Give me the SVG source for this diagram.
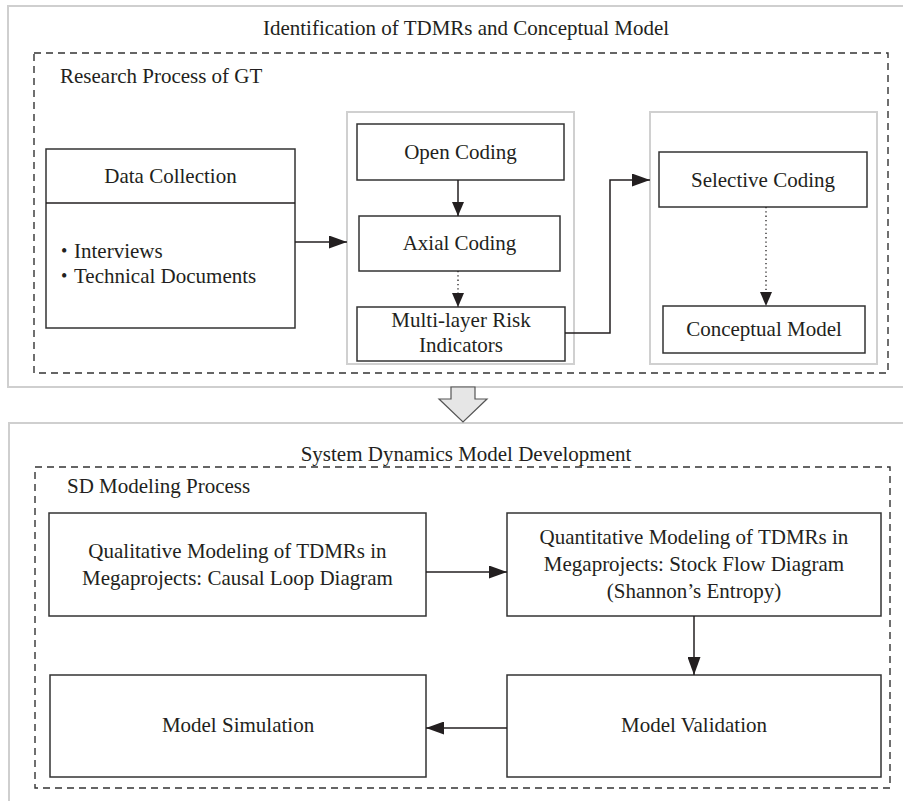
<svg xmlns="http://www.w3.org/2000/svg" width="903" height="801" viewBox="0 0 903 801">
<defs>
<style>
text{font-family:"Liberation Serif","DejaVu Serif",serif;font-size:21px;fill:#231f20}
.c{text-anchor:middle}
.b{font-size:18px}
.panel{fill:none;stroke:#cfcfcf;stroke-width:2}
.dash{fill:none;stroke:#333;stroke-width:1.4;stroke-dasharray:7 5}
.cont{fill:none;stroke:#d0d0d0;stroke-width:2}
.box{fill:#fff;stroke:#333;stroke-width:1.5}
.ln{fill:none;stroke:#231f20;stroke-width:1.5}
.dot{fill:none;stroke:#231f20;stroke-width:1.3;stroke-dasharray:1.3 3}
</style>
<marker id="ah" viewBox="0 0 18 13" refX="18" refY="6.5" markerWidth="18" markerHeight="13" markerUnits="userSpaceOnUse" orient="auto">
<path d="M0,0 L18,6.5 L0,13 z" fill="#231f20"/>
</marker>
<marker id="ahs" viewBox="0 0 14 12" refX="14" refY="6" markerWidth="14" markerHeight="12" markerUnits="userSpaceOnUse" orient="auto">
<path d="M0,0 L14,6 L0,12 z" fill="#231f20"/>
</marker>
</defs>
<rect width="903" height="801" fill="#fff"/>

<g id="panel-top">
<rect class="panel" x="8" y="6" width="920" height="381"/>
<text class="c" x="466" y="35">Identification of TDMRs and Conceptual Model</text>
<rect class="dash" x="34" y="53" width="854" height="320"/>
<text x="60" y="83">Research Process of GT</text>
<rect class="cont" x="347" y="112" width="227" height="252"/>
<rect class="cont" x="650" y="112" width="227" height="252"/>
</g>

<g id="panel-bottom">
<rect class="panel" x="9" y="423" width="920" height="400"/>
<text class="c" x="466" y="461">System Dynamics Model Development</text>
<rect class="dash" x="35" y="467" width="855" height="321"/>
<text x="67" y="493">SD Modeling Process</text>
</g>

<g id="big-arrow">
<path d="M451,387 L475,387 L475,399 L487,399 L463,422 L439,399 L451,399 z" fill="#e6e6e6" stroke="#555" stroke-width="1.2"/>
</g>

<g id="data-collection">
<rect class="box" x="46" y="149" width="249" height="179"/>
<line class="ln" x1="46" y1="203" x2="295" y2="203"/>
<text class="c" x="170.5" y="183">Data Collection</text>
<text y="258"><tspan class="b" x="61" dy="-1">•</tspan><tspan x="74" dy="1">Interviews</tspan></text>
<text y="283"><tspan class="b" x="61" dy="-1">•</tspan><tspan x="74" dy="1">Technical Documents</tspan></text>
</g>

<g id="open-coding">
<rect class="box" x="357" y="124" width="207" height="56"/>
<text class="c" x="460.5" y="159">Open Coding</text>
</g>

<g id="axial-coding">
<rect class="box" x="359" y="216" width="201" height="55"/>
<text class="c" x="459.5" y="250">Axial Coding</text>
</g>

<g id="multi-layer">
<rect class="box" x="357" y="307" width="208" height="54"/>
<text class="c" x="461" y="327">Multi-layer Risk</text>
<text class="c" x="461" y="352">Indicators</text>
</g>

<g id="selective-coding">
<rect class="box" x="659" y="152" width="208" height="55"/>
<text class="c" x="763" y="187">Selective Coding</text>
</g>

<g id="conceptual-model">
<rect class="box" x="663" y="306" width="202" height="47"/>
<text class="c" x="764" y="336">Conceptual Model</text>
</g>

<g id="qualitative">
<rect class="box" x="49" y="513" width="377" height="103"/>
<text class="c" x="237.5" y="558">Qualitative Modeling of TDMRs in</text>
<text class="c" x="237.5" y="585">Megaprojects: Causal Loop Diagram</text>
</g>

<g id="quantitative">
<rect class="box" x="507" y="513" width="374" height="103"/>
<text class="c" x="694" y="544">Quantitative Modeling of TDMRs in</text>
<text class="c" x="694" y="571">Megaprojects: Stock Flow Diagram</text>
<text class="c" x="694" y="598">(Shannon’s Entropy)</text>
</g>

<g id="simulation">
<rect class="box" x="50" y="675" width="376" height="102"/>
<text class="c" x="238" y="732">Model Simulation</text>
</g>

<g id="validation">
<rect class="box" x="507" y="675" width="374" height="102"/>
<text class="c" x="694" y="732">Model Validation</text>
</g>

<g id="connectors">
<line class="ln" x1="295" y1="242" x2="347" y2="242" marker-end="url(#ah)"/>
<line class="ln" x1="458" y1="180" x2="458" y2="216" marker-end="url(#ahs)"/>
<line class="dot" x1="458" y1="271" x2="458" y2="307" marker-end="url(#ahs)"/>
<polyline class="ln" points="565,333 610,333 610,180 650,180" marker-end="url(#ah)"/>
<line class="dot" x1="766" y1="207" x2="766" y2="306" marker-end="url(#ahs)"/>
<line class="ln" x1="426" y1="572" x2="507" y2="572" marker-end="url(#ah)"/>
<line class="ln" x1="694" y1="616" x2="694" y2="675" marker-end="url(#ah)"/>
<line class="ln" x1="507" y1="728" x2="426" y2="728" marker-end="url(#ah)"/>
</g>
</svg>
